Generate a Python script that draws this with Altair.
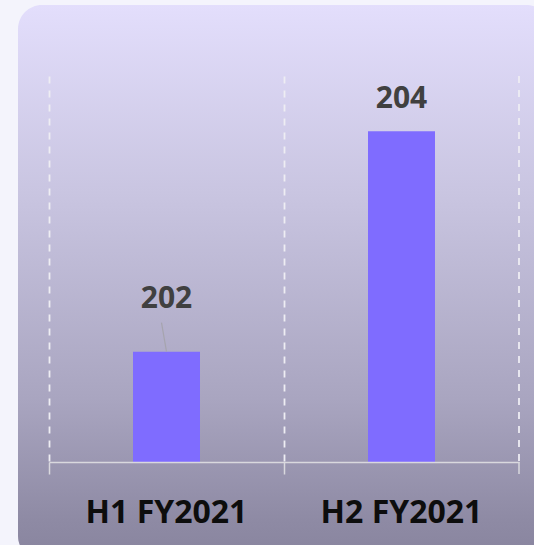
import altair as alt
import pandas as pd

categories = ["H1 FY2021", "H2 FY2021"]
values = [202, 204]
labels = ["202", "204"]
y_min, y_max = 201, 204.5

df = pd.DataFrame({"cat": categories, "value": values, "label": labels})

W, H = 470, 386
font = "Open Sans"
grid_col = "#eeedf3"
axis_col = "#d9d8de"

xenc = alt.X("cat:N", sort=categories, title=None,
             scale=alt.Scale(paddingInner=0, paddingOuter=0),
             axis=alt.Axis(bandPosition=0, grid=True, gridDash=[7, 7], gridColor=grid_col,
                           gridWidth=1.8, domainColor=axis_col, domainWidth=1.5,
                           tickColor=axis_col, tickWidth=1.5, tickSize=12,
                           labelFont=font, labelFontSize=32, labelFontWeight="bold",
                           labelColor="#0d0d0d", labelBaseline="alphabetic", labelPadding=48,
                           labelAngle=0, zindex=1))
yscale = alt.Scale(domain=[y_min, y_max], zero=False, nice=False)

base = alt.Chart(df)

bg = base.transform_filter(alt.datum.cat == categories[0]).mark_rect(
    cornerRadius=24,
    fill=alt.Gradient(gradient="linear", x1=0, x2=0, y1=0, y2=1,
                      stops=[alt.GradientStop(color="#e3defc", offset=0),
                             alt.GradientStop(color="#c8c4e0", offset=0.35),
                             alt.GradientStop(color="#a9a5c0", offset=0.71),
                             alt.GradientStop(color="#8e8aa4", offset=0.93),
                             alt.GradientStop(color="#88849e", offset=1)]),
).encode(x=alt.value(-31), x2=alt.value(501), y=alt.value(-71), y2=alt.value(484))

bars = base.mark_bar(size=67, color="#7f6cff").encode(
    x=xenc,
    y=alt.Y("value:Q", scale=yscale, axis=None),
    y2=alt.datum(y_min),
)

txt_hi = base.transform_filter(alt.datum.value == values[1]).mark_text(
    font=font, fontSize=30, fontWeight="bold", color="#404040",
    baseline="alphabetic", dy=-23).encode(x="cat:N", y=alt.Y("value:Q", scale=yscale), text="label:N")
txt_lo = base.transform_filter(alt.datum.value == values[0]).mark_text(
    font=font, fontSize=30, fontWeight="bold", color="#404040",
    baseline="alphabetic", dy=-44).encode(x="cat:N", y=alt.Y("value:Q", scale=yscale), text="label:N")
leader = base.transform_filter(alt.datum.value == values[0]).mark_rule(
    color="#a6a4ae", strokeWidth=1.2, xOffset=-5, yOffset=-29).encode(
    x="cat:N", x2="cat:N", y=alt.Y("value:Q", scale=yscale), y2="value:Q")

edge_grid = base.transform_filter(alt.datum.cat == categories[0]).mark_rule(
    color=grid_col, strokeWidth=1.8, strokeDash=[7, 7]).encode(
    x=alt.value(W), y=alt.value(0), y2=alt.value(H))
edge_tick = base.transform_filter(alt.datum.cat == categories[0]).mark_rule(
    color=axis_col, strokeWidth=1.5).encode(
    x=alt.value(W), y=alt.value(H), y2=alt.value(H + 12))

chart = alt.layer(bg, bars, leader, txt_lo, txt_hi, edge_grid, edge_tick).properties(
    width=W, height=H,
    autosize=alt.AutoSizeParams(type="none"),
    padding={"left": 49, "top": 76, "right": 15, "bottom": 83},
    background="#f4f4fc",
).configure_view(stroke=None)

chart.save("out.html", embed_options={"renderer": "svg", "actions": False})
